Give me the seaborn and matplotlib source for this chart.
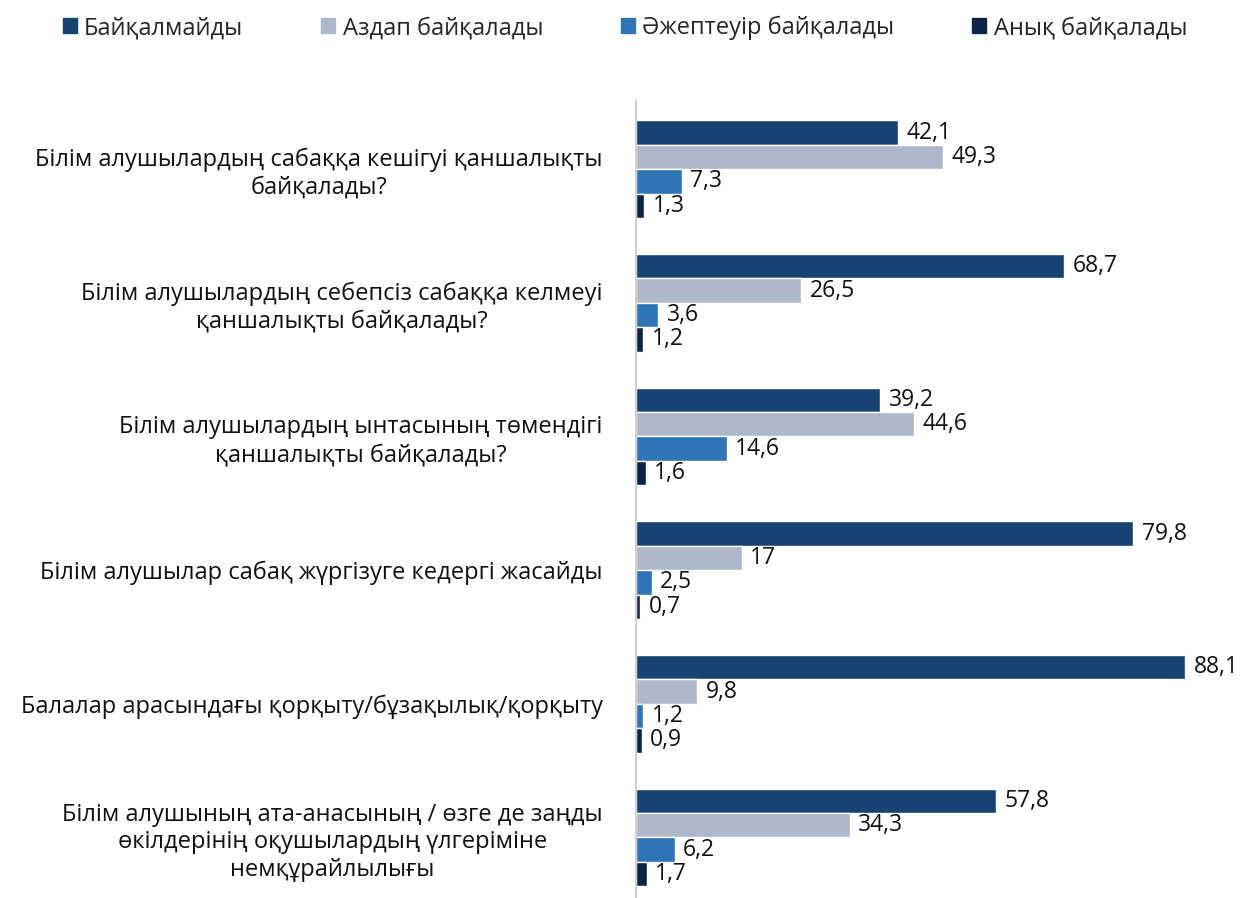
import matplotlib
matplotlib.use("Agg")
import matplotlib.pyplot as plt
import seaborn as sns
import pandas as pd

questions = [
    "Білім алушылардың сабаққа кешігуі қаншалықты\nбайқалады?",
    "Білім алушылардың себепсіз сабаққа келмеуі\nқаншалықты байқалады?",
    "Білім алушылардың ынтасының төмендігі\nқаншалықты байқалады?",
    "Білім алушылар сабақ жүргізуге кедергі жасайды",
    "Балалар арасындағы қорқыту/бұзақылық/қорқыту",
    "Білім алушының ата-анасының / өзге де заңды\nөкілдерінің оқушылардың үлгеріміне\nнемқұрайлылығы",
]
levels = ["Байқалмайды", "Аздап байқалады", "Әжептеуір байқалады", "Анық байқалады"]

not_seen = [42.1, 68.7, 39.2, 79.8, 88.1, 57.8]
slightly = [49.3, 26.5, 44.6, 17.0, 9.8, 34.3]
fairly = [7.3, 3.6, 14.6, 2.5, 1.2, 6.2]
clearly = [1.3, 1.2, 1.6, 0.7, 0.9, 1.7]

colors = ["#174372", "#ADB9CA", "#2E75B6", "#0D2645"]

rows = []
for lvl, vals in zip(levels, [not_seen, slightly, fairly, clearly]):
    for q, v in zip(questions, vals):
        rows.append({"question": q, "level": lvl, "value": v})
df = pd.DataFrame(rows)

sns.set_theme(style="white")
plt.rcParams["font.family"] = ["Open Sans", "DejaVu Sans"]

fig = plt.figure(figsize=(12.4, 8.98), dpi=100)
ax = fig.add_axes([636 / 1240, 0.0, 561 / 1240, 798 / 898])

sns.barplot(data=df, y="question", x="value", hue="level", order=questions,
            hue_order=levels, palette=colors, orient="h", width=0.73,
            saturation=1, ax=ax, legend=False)

def fmt(v):
    return (f"{v:g}").replace(".", ",")

for container in ax.containers:
    ax.bar_label(container, labels=[fmt(b.get_width()) for b in container],
                 padding=6, fontsize=16.5, color="#111111")

ax.set_xlim(0, 90)
ax.set_ylim(5.453, -0.517)
ax.set_xlabel("")
ax.set_ylabel("")
ax.set_xticks([])
ax.tick_params(axis="y", length=0, pad=24, labelsize=17)
for lbl in ax.get_yticklabels():
    lbl.set_horizontalalignment("right")
    lbl.set_multialignment("center")
    lbl.set_color("#111111")
for s in ["top", "right", "bottom"]:
    ax.spines[s].set_visible(False)
ax.spines["left"].set_color("#D0D0D0")
ax.spines["left"].set_linewidth(1.5)

handles = [plt.Rectangle((0, 0), 1, 1, color=c) for c in colors]
fig.legend(handles, levels, loc="center", bbox_to_anchor=(0.504, 0.969), ncol=4,
           frameon=False, fontsize=17, handlelength=0.6, handleheight=0.6,
           handletextpad=0.3, columnspacing=3.3)

fig.savefig("out.png", dpi=100)
